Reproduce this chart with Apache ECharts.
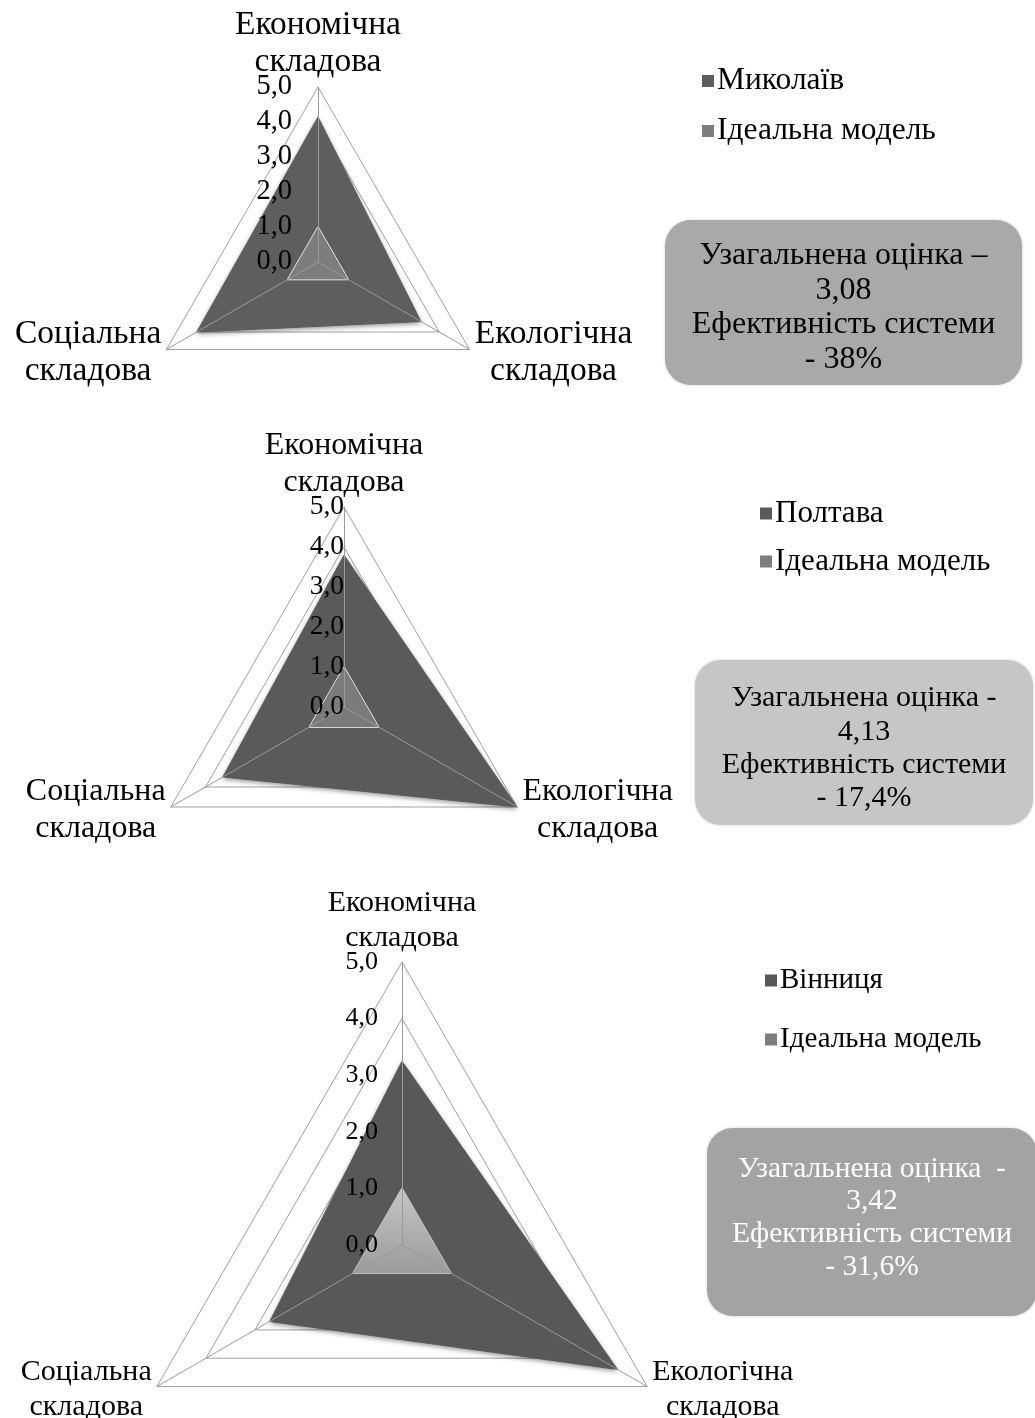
<!DOCTYPE html>
<html>
<head>
<meta charset="utf-8">
<title>radar</title>
<script src="https://cdn.jsdelivr.net/npm/echarts@6/dist/echarts.min.js"></script>
<style>
html, body { margin: 0; padding: 0; background: #fff; }
#main { width: 1035px; height: 1418px; }
</style>
</head>
<body>
<div id="main"></div>
<script>
// осі радара (порядок: верх, ліво-низ, право-низ)
var axisNames = ['Економічна\nскладова', 'Соціальна\nскладова', 'Екологічна\nскладова'];
var axisMax = 5;
var cities = ['Миколаїв', 'Полтава', 'Вінниця'];
var idealName = 'Ідеальна модель';
// значення: економічна, соціальна, екологічна
var mykolaiv = [4.15, 4.0, 3.4];
var poltava = [3.8, 3.5, 5.0];
var vinnytsia = [3.25, 2.7, 4.4];
var ideal = [1, 1, 1];
var scores = ['3,08', '4,13', '3,42'];
var efficiency = ['38%', '17,4%', '31,6%'];
var scoreDash = ['–', '-', ' -'];

var values = [mykolaiv, poltava, vinnytsia];
var font = '"Liberation Serif", "Times New Roman", serif';

// розміщення трьох діаграм
var layout = [
  { center: [318, 262], radius: 175, fs: 33.5, lh: 37, gap: 6, tickFs: 28.5, margin: 26, dark: '#5e5e5e', idealC: '#7d7d7d', idealBorder: '#ffffff',
    legendFs: 31.5, legend: [697, 60], legendGap: 18, box: [665, 220, 357, 165], boxFill: '#a9a9a9', boxText: '#000', boxFs: 32, boxLh: 34.5, boxDy: 5 },
  { center: [344, 707], radius: 200, fs: 32, lh: 37, gap: 6, tickFs: 27.5, margin: 0, dark: '#5a5a5a', idealC: '#7b7b7b', idealBorder: '#ffffff',
    legendFs: 31, legend: [755, 493], legendGap: 17, box: [695, 660, 338, 165], boxFill: '#c6c6c6', boxText: '#000', boxFs: 30, boxLh: 33.3, boxDy: 6 },
  { center: [402, 1245], radius: 283, fs: 30, lh: 35, gap: 6, tickFs: 26, margin: 24, dark: '#585858', idealC: '#a8a8a8', idealBorder: '#c8c8c8',
    legendFs: 29, legend: [760, 961], legendGap: 30, box: [707, 1128, 330, 188], boxFill: '#a3a3a3', boxText: '#ffffff', boxFs: 29.5, boxLh: 32.7, boxDy: -4 }
];

var radars = [], series = [], legends = [], graphics = [];

layout.forEach(function (L, i) {
  var ind = axisNames.map(function (n) { return { name: n, min: 0, max: axisMax }; });
  // base radar: grid + names
  radars.push({
    center: L.center, radius: L.radius, shape: 'polygon', splitNumber: 5, startAngle: 90,
    indicator: ind,
    axisName: {
      color: '#000', fontFamily: font, fontSize: L.fs, lineHeight: L.lh,
      // рядки назви по центру один під одним
      formatter: function (name) {
        return name.split('\n').map(function (s) { return '{c|' + s + '}'; }).join('\n');
      },
      rich: { c: { align: 'center', color: '#000', fontFamily: font, fontSize: L.fs, lineHeight: L.lh } }
    },
    nameGap: L.gap,
    splitLine: { lineStyle: { color: '#a0a0a0', width: 1 } },
    splitArea: { show: false },
    axisLine: { show: false },
    axisLabel: { show: false }
  });
  // overlay radar: spokes and tick labels on top of the fill
  radars.push({
    center: L.center, radius: L.radius, shape: 'polygon', splitNumber: 5, startAngle: 90, z: 5,
    indicator: axisNames.map(function (n, k) {
      var o = { name: '', min: 0, max: axisMax };
      if (k === 0) o.axisLabel = { show: true };
      return o;
    }),
    axisName: { show: false },
    splitLine: { show: false },
    splitArea: { show: false },
    axisLine: { show: true, lineStyle: { color: '#9a9a9a', width: 1 } },
    axisLabel: {
      show: false, color: '#000', fontFamily: font, fontSize: L.tickFs, margin: L.margin,
      formatter: function (v) { return v.toFixed(1).replace('.', ','); }
    }
  });

  var idealArea = i === 2
    ? { color: new echarts.graphic.LinearGradient(0, 0, 0, 1, [{ offset: 0, color: '#c4c4c4' }, { offset: 1, color: '#9c9c9c' }]), opacity: 1 }
    : { color: L.idealC, opacity: 1 };

  series.push({
    type: 'radar',
    radarIndex: i * 2,
    symbol: 'none',
    silent: true,
    data: [
      { name: cities[i], value: values[i],
        itemStyle: { color: L.dark },
        lineStyle: { color: '#8a8a8a', width: 1 },
        areaStyle: { color: L.dark, opacity: 1, shadowBlur: 5, shadowColor: 'rgba(0,0,0,0.45)', shadowOffsetY: 2 } },
      { name: idealName, value: ideal,
        itemStyle: { color: L.idealC },
        lineStyle: { color: L.idealBorder, width: 1.5 },
        areaStyle: idealArea }
    ]
  });

  legends.push({
    orient: 'vertical', left: L.legend[0], top: L.legend[1],
    icon: 'rect', itemWidth: 12, itemHeight: 12, itemGap: L.legendGap,
    data: [cities[i], idealName],
    textStyle: { color: '#000', fontFamily: font, fontSize: L.legendFs, padding: [0, 0, 0, -2] },
    selectedMode: false
  });

  var b = L.box;
  graphics.push({
    type: 'rect', left: b[0], top: b[1], z: 10,
    shape: { width: b[2], height: b[3], r: 26 },
    style: { fill: L.boxFill, shadowBlur: 3, shadowColor: 'rgba(0,0,0,0.2)' }
  });
  graphics.push({
    type: 'text', z: 11,
    x: b[0] + b[2] / 2, y: b[1] + b[3] / 2 + L.boxDy,
    style: {
      text: 'Узагальнена оцінка ' + scoreDash[i] + '\n' + scores[i] + '\nЕфективність системи\n- ' + efficiency[i],
      fill: L.boxText, font: L.boxFs + 'px ' + font, lineHeight: L.boxLh,
      align: 'center', verticalAlign: 'middle'
    }
  });
});

var chart = echarts.init(document.getElementById('main'));
chart.setOption({
  backgroundColor: '#fff',
  animation: false,
  radar: radars,
  legend: legends,
  series: series,
  graphic: graphics
});
</script>
</body>
</html>
